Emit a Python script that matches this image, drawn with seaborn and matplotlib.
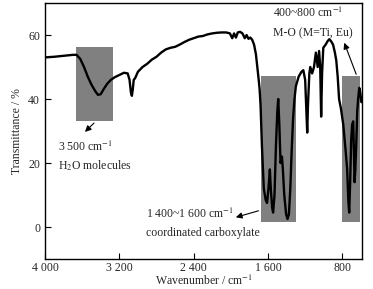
import seaborn as sns
sns.set_theme(style="ticks")

import matplotlib.pyplot as plt
from matplotlib.patches import Rectangle
import pandas as pd

plt.rcParams['font.family'] = ['Liberation Serif', 'DejaVu Serif']
plt.rcParams['mathtext.fontset'] = 'stix'

# FT-IR spectrum
wavenumber = [4000, 3900, 3800, 3700, 3660, 3620, 3580, 3540, 3500, 3460, 3430, 3400,
              3370, 3330, 3290, 3250, 3200, 3150, 3110, 3090, 3075, 3065, 3055, 3045,
              3030, 3000, 2950, 2900, 2850, 2800, 2750, 2700, 2650, 2600, 2550, 2500,
              2450, 2400, 2350, 2300, 2250, 2200, 2150, 2100, 2050, 2010, 1985, 1965,
              1945, 1925, 1900, 1875, 1850, 1830, 1810, 1790, 1770, 1750, 1730, 1715,
              1700, 1690, 1680, 1665, 1645, 1625, 1610, 1595, 1580, 1570, 1555, 1545,
              1530, 1515, 1500, 1490, 1478, 1465, 1450, 1440, 1425, 1405, 1390, 1375,
              1360, 1345, 1330, 1315, 1300, 1270, 1240, 1220, 1200, 1185, 1178, 1170,
              1155, 1145, 1125, 1105, 1085, 1065, 1050, 1038, 1028, 1018, 1005, 980,
              960, 940, 920, 900, 880, 865, 850, 835, 815, 790, 765, 748, 735, 726,
              715, 705, 695, 683, 675, 668, 660, 650, 640, 630, 618, 607, 595]
transmittance = [53.0, 53.2, 53.5, 53.8, 53.8, 52.5, 50.0, 47.0, 44.5, 42.5, 41.3, 41.5,
                 43.0, 44.8, 46.0, 46.8, 47.5, 48.2, 48.0, 46.0, 42.0, 41.0, 43.0, 46.0,
                 46.5, 48.5, 50.0, 51.0, 52.3, 53.2, 54.5, 55.5, 56.0, 56.3, 57.0, 57.8,
                 58.5, 59.0, 59.5, 59.7, 60.2, 60.5, 60.7, 60.8, 60.8, 60.5, 59.0, 60.5,
                 59.2, 60.8, 61.0, 60.5, 59.0, 60.0, 58.8, 59.2, 58.5, 57.0, 54.0, 50.0,
                 46.0, 43.0, 38.0, 25.0, 12.0, 8.5, 7.5, 12.0, 18.0, 12.0, 6.0, 4.5,
                 10.0, 25.0, 36.0, 40.0, 32.0, 20.0, 22.0, 18.0, 10.0, 4.0, 2.5, 4.0,
                 12.0, 24.0, 34.0, 40.0, 44.0, 47.0, 48.5, 49.0, 46.0, 35.0, 29.5, 38.0,
                 48.0, 50.0, 48.0, 50.0, 54.5, 50.0, 55.0, 50.0, 34.5, 48.0, 56.0, 57.0,
                 58.0, 58.7, 58.0, 57.0, 54.5, 52.0, 47.0, 40.0, 37.0, 32.0, 24.0, 18.0,
                 8.0, 4.5, 15.0, 27.0, 32.0, 33.0, 22.0, 14.0, 18.0, 26.0, 36.0, 40.0,
                 43.5, 42.0, 39.0]

# shaded bands: (wavenumber high, wavenumber low, T bottom, T top)
bands = [(3667, 3270, 33.1, 56.4),
         (1680, 1304, 1.6, 47.2),
         (800, 606, 1.6, 47.2)]

xticks = [4000, 3200, 2400, 1600, 800]
xtick_labels = ['4 000', '3 200', '2 400', '1 600', '800']
yticks = [0, 20, 40, 60]

df = pd.DataFrame({'wn': wavenumber, 'T': transmittance})

fig = plt.figure(figsize=(3.73, 2.89), dpi=100)
ax = fig.add_axes([0.1206, 0.1038, 0.85, 0.8858])

for hi, lo, b, t in bands:
    ax.add_patch(Rectangle((lo, b), hi - lo, t - b, facecolor='#808080',
                           edgecolor='none', zorder=1))

sns.lineplot(data=df, x='wn', y='T', sort=False, estimator=None, color='black',
             linewidth=1.7, ax=ax, zorder=3)

ax.set_xlim(4000, 588)
ax.set_ylim(-10, 70)
ax.set_xticks(xticks)
ax.set_xticklabels(xtick_labels)
ax.set_yticks(yticks)
ax.tick_params(direction='in', length=4, width=0.8, labelsize=8.5, color='black')
ax.tick_params(axis='x', pad=2)
for s in ax.spines.values():
    s.set_linewidth(1.0)
    s.set_color('black')

ax.set_xlabel('Wavenumber / cm$^{-1}$', fontsize=8.5, labelpad=0)
ax.set_ylabel('Transmittance / %', fontsize=8.5, labelpad=4)

arrow = dict(arrowstyle='-|>', color='black', lw=0.8, mutation_scale=9)
fs = 8.5
ax.annotate('', xy=(3591, 29.1), xytext=(3451, 33.1), arrowprops=arrow)
ax.text(3860, 25, '3 500 cm$^{-1}$', fontsize=fs, va='center', ha='left')
ax.text(3860, 19, 'H$_2$O molecules', fontsize=fs, va='center', ha='left')

ax.annotate('', xy=(1975, 2.8), xytext=(1674, 5.3), arrowprops=arrow)
ax.text(2912, 4.1, '1 400~1 600 cm$^{-1}$', fontsize=fs, va='center', ha='left')
ax.text(2912, -1.9, 'coordinated carboxylate', fontsize=fs, va='center', ha='left')

ax.annotate('', xy=(790, 58.4), xytext=(640, 46.9), arrowprops=arrow)
ax.text(1544, 66.9, '400~800 cm$^{-1}$', fontsize=fs, va='center', ha='left')
ax.text(1544, 60.6, 'M-O (M=Ti, Eu)', fontsize=fs, va='center', ha='left')

fig.savefig('out.png', dpi=100)
